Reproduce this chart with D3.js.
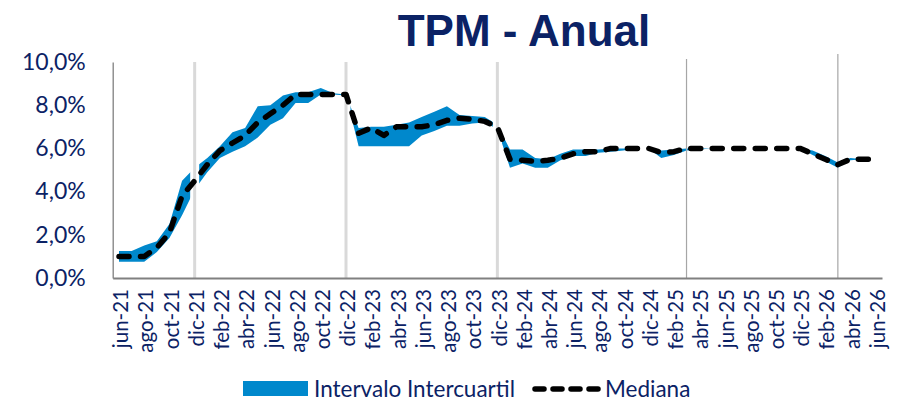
<!DOCTYPE html>
<html>
<head>
<meta charset="utf-8">
<script src="https://cdn.jsdelivr.net/npm/d3@7"></script>
<style>
  body { margin: 0; background: #fff; }
  text { font-family: Lato, 'Open Sans', sans-serif; fill: #0b2265; }
</style>
</head>
<body>
<script>
// ==================== Data ============================
const months = ['jun-21','jul-21','ago-21','sep-21','oct-21','nov-21','dic-21',
  'ene-22','feb-22','mar-22','abr-22','may-22','jun-22','jul-22','ago-22','sep-22','oct-22','nov-22','dic-22',
  'ene-23','feb-23','mar-23','abr-23','may-23','jun-23','jul-23','ago-23','sep-23','oct-23','nov-23','dic-23',
  'ene-24','feb-24','mar-24','abr-24','may-24','jun-24','jul-24','ago-24','sep-24','oct-24','nov-24','dic-24',
  'ene-25','feb-25','mar-25','abr-25','may-25','jun-25','jul-25','ago-25','sep-25','oct-25','nov-25','dic-25',
  'ene-26','feb-26','mar-26','abr-26','may-26','jun-26'];

// lower quartile, median, upper quartile (%)
const q1 = [0.75,0.75,0.75,1.20,1.85,2.90,4.10,
  4.90,5.55,5.85,6.10,6.50,7.10,7.40,8.10,8.10,8.50,8.50,8.45,
  6.10,6.10,6.10,6.10,6.10,6.60,6.80,7.05,7.05,7.15,7.20,6.90,
  5.10,5.30,5.10,5.10,5.45,5.65,5.65,5.80,5.85,5.90,6.00,6.00,
  5.55,5.70,5.90,5.95,6.00,6.00,6.00,6.00,6.00,6.00,6.00,6.00,
  5.70,5.40,5.10,5.45,5.50,5.50];
const median = [1.00,1.00,1.00,1.40,2.10,3.80,4.50,
  5.25,5.90,6.25,6.60,7.20,7.60,8.00,8.50,8.50,8.50,8.50,8.50,
  6.70,6.95,6.60,7.00,7.00,7.00,7.10,7.30,7.40,7.35,7.25,7.00,
  5.50,5.45,5.40,5.45,5.55,5.75,5.85,5.85,6.00,6.00,6.00,6.00,
  5.80,5.85,6.00,6.00,6.00,6.00,6.00,6.00,6.00,6.00,6.00,6.00,
  5.75,5.50,5.25,5.50,5.50,5.50];
const q3 = [1.25,1.25,1.50,1.70,2.50,4.50,5.10,
  5.55,6.10,6.75,6.95,7.95,8.00,8.45,8.60,8.60,8.80,8.55,8.50,
  6.95,7.00,7.00,7.10,7.20,7.45,7.70,7.95,7.55,7.50,7.45,7.10,
  5.95,5.95,5.55,5.50,5.75,5.95,5.95,5.95,6.00,6.00,6.00,6.00,
  5.90,5.95,6.00,6.00,6.00,6.00,6.00,6.00,6.00,6.00,6.00,6.00,
  5.90,5.65,5.35,5.55,5.50,5.50];

const yTicks = [0, 2, 4, 6, 8, 10];
const xTickLabels = months.filter((m, i) => i % 2 === 0);
const yearMarks = ['dic-21', 'dic-22', 'dic-23'];   // light grey separators
const thinMarks = ['mar-25', 'mar-26'];            // thin dark lines

const data = months.map((m, i) => ({month: m, lo: q1[i], med: median[i], hi: q3[i]}));

// ==================== Set up Variables ============================
const margin = {top: 62, right: 28, bottom: 131, left: 112.7},
      width = 910 - margin.left - margin.right,
      height = 409 - margin.top - margin.bottom;

const x = d3.scaleBand().domain(months).range([0, width]).padding(0),
      y = d3.scaleLinear().domain([0, 10]).range([height, 0]);
const cx = (m) => x(m) + x.bandwidth() / 2;

const locale = d3.formatLocale({decimal: ',', thousands: '.', grouping: [3], currency: ['', '']});
const pct = (v) => locale.format('.1f')(v) + '%';

const svg = d3.select('body')
  .append('svg')
    .attr('width', 910)
    .attr('height', 409);

const g = svg.append('g')
    .attr('transform', `translate(${margin.left}, ${margin.top})`);

// Title
svg.append('text')
    .attr('x', 524)
    .attr('y', 46)
    .attr('text-anchor', 'middle')
    .style('font-family', "'Liberation Sans Narrow', 'Liberation Sans', sans-serif")
    .style('font-weight', 'bold')
    .style('font-size', '44px')
    .text('TPM - Anual');

// Interquartile band
const area = d3.area()
    .x((d) => cx(d.month))
    .y0((d) => y(d.lo))
    .y1((d) => y(d.hi));

g.append('path')
    .datum(data)
    .attr('fill', '#0088cc')
    .attr('d', area);

// Year separators (white halo over the band, then grey line)
yearMarks.forEach((m) => {
  g.append('line')
      .attr('x1', cx(m)).attr('x2', cx(m))
      .attr('y1', 0).attr('y2', height)
      .attr('stroke', '#fff').attr('stroke-width', 9);
  g.append('line')
      .attr('x1', cx(m)).attr('x2', cx(m))
      .attr('y1', 0).attr('y2', height)
      .attr('stroke', '#d9d9d9').attr('stroke-width', 3);
});

thinMarks.forEach((m, i) => {
  g.append('line')
      .attr('x1', cx(m)).attr('x2', cx(m))
      .attr('y1', i === 0 ? -3 : -8).attr('y2', height)
      .attr('stroke', '#a6a6a6').attr('stroke-width', 1.2);
});

// Y axis
const yAxis = g.append('g')
    .call(d3.axisLeft(y).tickValues(yTicks).tickFormat(pct).tickSize(0).tickPadding(27));
yAxis.select('.domain').attr('stroke', '#808080').attr('stroke-width', 1.3);
yAxis.selectAll('text')
    .style('font-size', '23px')
    .style('fill', '#0b2265');

// X axis
const xAxis = g.append('g')
    .attr('transform', `translate(0, ${height})`)
    .call(d3.axisBottom(x).tickValues(xTickLabels).tickSize(0).tickPadding(0));
xAxis.select('.domain').attr('stroke', '#808080').attr('stroke-width', 1.8);
xAxis.selectAll('text')
    .style('font-size', '20.5px')
    .style('fill', '#0b2265')
    .style('text-anchor', 'end')
    .attr('transform', 'rotate(-90)')
    .attr('x', -11)
    .attr('y', 0)
    .attr('dy', '0.45em');

// Median line
const line = d3.line()
    .x((d) => cx(d.month))
    .y((d) => y(d.med));

g.append('path')
    .datum(data)
    .attr('fill', 'none')
    .attr('stroke', '#000')
    .attr('stroke-width', 5.5)
    .attr('stroke-linecap', 'round')
    .attr('stroke-linejoin', 'round')
    .attr('stroke-dasharray', '10 11.5')
    .attr('d', line);

// Legend
const legend = svg.append('g');
legend.append('rect')
    .attr('x', 243).attr('y', 381)
    .attr('width', 65).attr('height', 15)
    .attr('fill', '#0088cc');
legend.append('text')
    .attr('x', 314).attr('y', 397)
    .style('font-size', '22.5px')
    .text('Intervalo Intercuartil');
legend.append('line')
    .attr('x1', 535).attr('x2', 598)
    .attr('y1', 389).attr('y2', 389)
    .attr('stroke', '#000')
    .attr('stroke-width', 5.5)
    .attr('stroke-linecap', 'round')
    .attr('stroke-dasharray', '9 9');
legend.append('text')
    .attr('x', 605).attr('y', 397)
    .style('font-size', '22.5px')
    .text('Mediana');
</script>
</body>
</html>
